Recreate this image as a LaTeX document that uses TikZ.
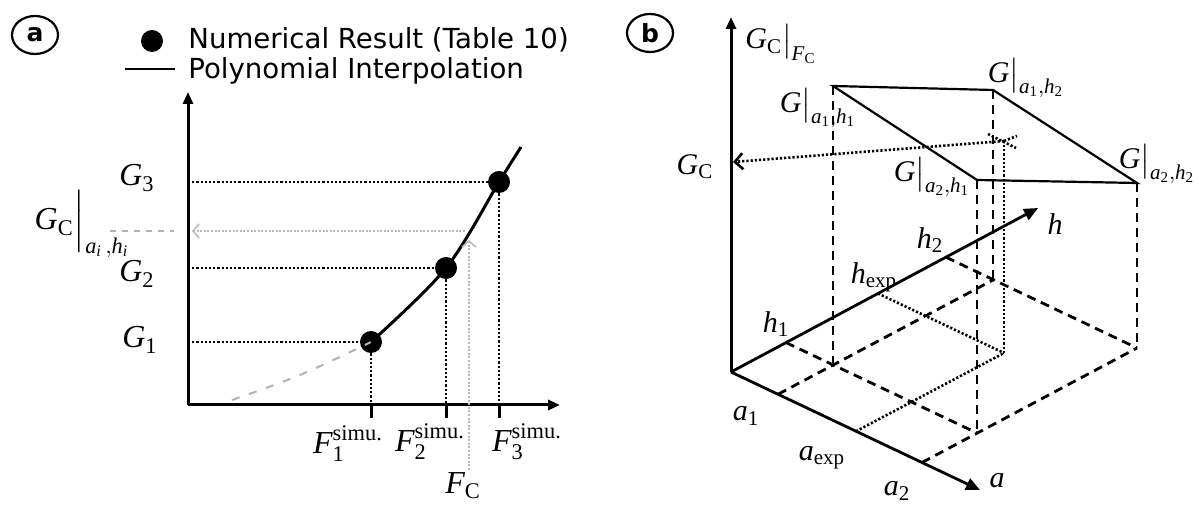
\documentclass[tikz,border=0pt]{standalone}
\usepackage{amsmath}
\usepackage{fontspec}
\setmainfont{Liberation Serif}
\newfontfamily\legendfont{DejaVu Sans}
\usetikzlibrary{arrows.meta,shapes.geometric}
\newcommand\mi[1]{\textit{#1}}
\newcommand\tu[1]{\textup{#1}}
\begin{document}
\begin{tikzpicture}[x=0.5pt,y=-0.5pt,
  axisline/.style={line width=1.5pt,-{Triangle[length=6pt,width=5pt]}},
  axisb/.style={line width=1.4pt,-{Triangle[length=7pt,width=6pt]}},
  dotline/.style={line width=1.3pt,dash pattern=on 1.1pt off 1pt},
  dashline/.style={line width=1.4pt,dash pattern=on 4.5pt off 3pt},
  tickline/.style={line width=1.5pt},
  grayline/.style={line width=0.8pt,gray!55,dash pattern=on 1pt off 0.8pt},
  grayarrow/.style={grayline,-{Straight Barb[length=3pt,width=7pt]}},
  dot/.style={circle,fill=black,inner sep=0pt,minimum size=11pt},
  lbl/.style={font=\fontsize{16}{18}\selectfont,inner sep=0pt},
  lblb/.style={font=\fontsize{15}{17}\selectfont,inner sep=0pt},
  legend/.style={font=\legendfont\fontsize{13.8}{16}\selectfont,inner sep=0pt,anchor=west},
  circlab/.style={draw,ellipse,line width=1.1pt,minimum width=23pt,minimum height=19pt,inner sep=0pt,font=\legendfont\bfseries\fontsize{12.5}{14}\selectfont},
  topline/.style={line width=1.1pt},
  curve/.style={line width=1.5pt}
]
\useasboundingbox (0,0) rectangle (1199,506);

% ---------------- panel a ----------------
\node[circlab] (pa) at (35,35) {a};
\node[dot,minimum size=11pt] (legdot) at (152,41) {};
\node[legend] (leg1) at (188,40) {Numerical Result (Table 10)};
\coordinate (legl1) at (125,69);
\coordinate (legl2) at (175,69);
\draw[line width=1.2pt] (legl1) -- (legl2);
\node[legend] (leg2) at (188,71) {Polynomial Interpolation};

\coordinate (oa) at (188,405);
\coordinate (yatip) at (188,92);
\coordinate (xatip) at (560,405);
\draw[axisline] (oa) -- (yatip);
\draw[axisline] (oa) -- (xatip);

\node[dot] (g1) at (371,342) {};
\node[dot] (g2) at (446,268) {};
\node[dot] (g3) at (499,182) {};
\coordinate (gtop) at (521,147);

\draw[dotline] (oa |- g1) -- (g1);
\draw[dotline] (oa |- g2) -- (g2);
\draw[dotline] (oa |- g3) -- (g3);
\draw[dotline] (g1) -- (g1 |- oa);
\draw[dotline] (g2) -- (g2 |- oa);
\draw[dotline] (g3) -- (g3 |- oa);
\coordinate (t1) at (371,418);
\coordinate (t2) at (446,418);
\coordinate (t3) at (499,418);
\draw[tickline] (g1 |- oa) -- (t1);
\draw[tickline] (g2 |- oa) -- (t2);
\draw[tickline] (g3 |- oa) -- (t3);

% interpolation curve
\coordinate (c0) at (232,400);
\coordinate (c1) at (300,375);
\draw[line width=1pt,gray!60,dash pattern=on 4pt off 5pt] plot[smooth,tension=0.6] coordinates {(c0) (c1) (g1)};
\draw[curve] plot[smooth,tension=0.55] coordinates {(g1) (g2) (g3) (gtop)};

% F_C construction
\coordinate (fcb) at (469,470);
\coordinate (fct) at (469,240);
\coordinate (gcs) at (465,231);
\coordinate (gce) at (192,231);
\coordinate (gcl1) at (110,231);
\coordinate (gcl2) at (174,231);
\draw[grayarrow] (fcb) -- (fct);
\draw[grayarrow] (gcs) -- (gce);
\draw[gray!60,line width=0.7pt,dash pattern=on 3pt off 3pt] (gcl1) -- (gcl2);

\node[lbl] (lg3) at (137,178) {$\mi{G}_{\tu{3}}$};
\node[lbl] (lg2) at (137,274) {$\mi{G}_{\tu{2}}$};
\node[lbl] (lg1) at (140,340) {$\mi{G}_{\tu{1}}$};
\node[lbl] (lgc) at (82,224) {$\mi{G}_{\tu{C}}\Big|_{\mi{a}_{\mi{i}}\,,\mi{h}_{\mi{i}}}$};
\node[lbl] (lf1) at (348,444) {$\mi{F}_{\tu{1}}^{\tu{simu.}}$};
\node[lbl] (lf2) at (430,442) {$\mi{F}_{\tu{2}}^{\tu{simu.}}$};
\node[lbl] (lf3) at (527,442) {$\mi{F}_{\tu{3}}^{\tu{simu.}}$};
\node[lbl] (lfc) at (463,486) {$\mi{F}_{\tu{C}}$};

% ---------------- panel b ----------------
\node[circlab] (pb) at (650,33) {b};
\coordinate (O) at (731,372);
\coordinate (vtip) at (731,17);
\coordinate (htip) at (1038,208);
\coordinate (atip) at (980,490);
\draw[axisline] (O) -- (vtip);
\draw[axisb] (O) -- (htip);
\draw[axisb] (O) -- (atip);

\coordinate (a1t) at (778,394.3);
\coordinate (aet) at (856,431.3);
\coordinate (a2t) at (922,462.5);
\coordinate (h1t) at (786,342.6);
\coordinate (het) at (878,293.5);
\coordinate (h2t) at (946,257.2);

\coordinate (f11) at (833,365);
\coordinate (f21) at (977,433);
\coordinate (f12) at (993,280);
\coordinate (f22) at (1137,348);
\coordinate (fe) at (1004,353);

\coordinate (t11) at (833,86);
\coordinate (t21) at (977,180);
\coordinate (t12) at (993,90);
\coordinate (t22) at (1137,183);
\coordinate (te) at (1004,141);
\coordinate (gcp) at (733,162);

\draw[topline] (t11) -- (t12) -- (t22) -- (t21) -- cycle;

\draw[dashline] (t11) -- (f11);
\draw[dashline] (t21) -- (f21);
\draw[dashline] (t12) -- (f12);
\draw[dashline] (t22) -- (f22);
\draw[dashline] (a1t) -- (f12);
\draw[dashline] (a2t) -- (f22);
\draw[dashline] (h1t) -- (f21);
\draw[dashline] (h2t) -- (f22);

\draw[dotline] (het) -- (fe);
\draw[dotline] (aet) -- (fe);
\draw[dotline] (fe) -- (te);
\draw[dotline,-{Straight Barb[length=4pt,width=8pt]}] (te) -- (gcp);
\coordinate (x1) at (988,134);
\coordinate (x2) at (1016,148);
\coordinate (x3) at (1017,136);
\draw[dotline] (x1) -- (x2);
\draw[dotline] (te) -- (x3);

\node[lblb] (lgf) at (781,44) {$\mi{G}_{\tu{C}}\big|_{\mi{F}_{\tu{C}}}$};
\node[lblb] (lgcb) at (695,167) {$\mi{G}_{\tu{C}}$};
\node[lblb] (l11) at (818,108) {$\mi{G}\big|_{\mi{a}_{\tu{1}},\mi{h}_{\tu{1}}}$};
\node[lblb] (l12) at (1026,78) {$\mi{G}\big|_{\mi{a}_{\tu{1}},\mi{h}_{\tu{2}}}$};
\node[lblb] (l22) at (1157,164) {$\mi{G}\big|_{\mi{a}_{\tu{2}},\mi{h}_{\tu{2}}}$};
\node[lblb] (l21) at (932,177) {$\mi{G}\big|_{\mi{a}_{\tu{2}},\mi{h}_{\tu{1}}}$};
\node[lblb] (lh) at (1055,224) {$\mi{h}$};
\node[lblb] (lh2) at (930,240) {$\mi{h}_{\tu{2}}$};
\node[lblb] (lhe) at (874,277) {$\mi{h}_{\tu{exp}}$};
\node[lblb] (lh1) at (776,324) {$\mi{h}_{\tu{1}}$};
\node[lblb] (la1) at (746,416) {$\mi{a}_{\tu{1}}$};
\node[lblb] (lae) at (822,458) {$\mi{a}_{\tu{exp}}$};
\node[lblb] (la2) at (897,491) {$\mi{a}_{\tu{2}}$};
\node[lblb] (la) at (997,481) {$\mi{a}$};
\end{tikzpicture}
\end{document}
